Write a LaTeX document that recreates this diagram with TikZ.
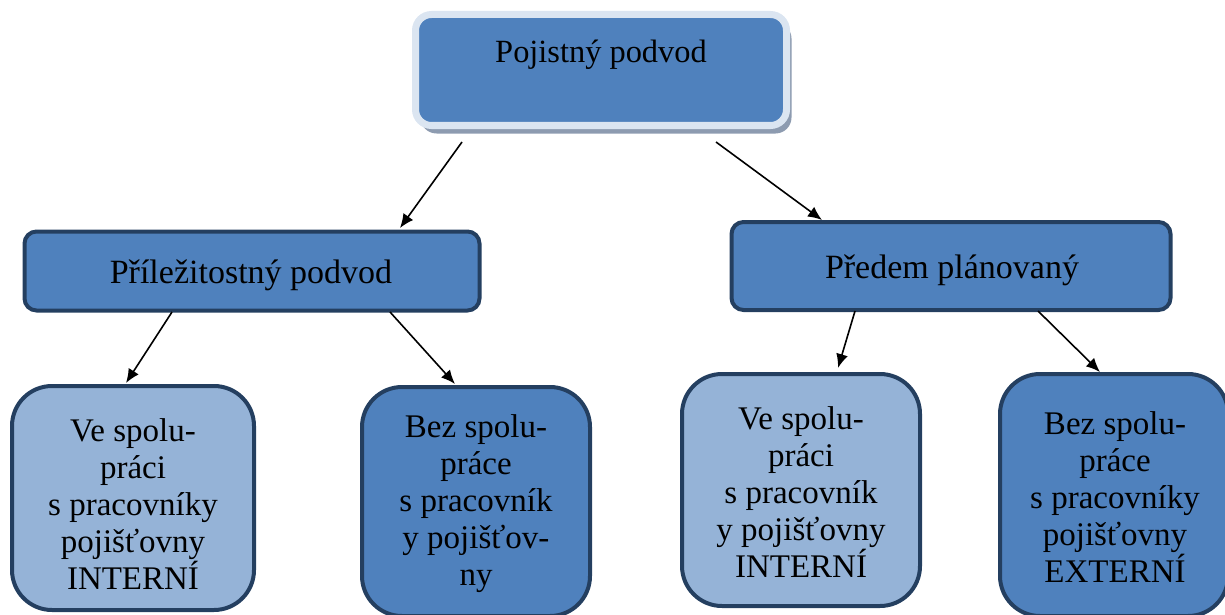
\documentclass[tikz,border=0pt]{standalone}
\usepackage{fontspec}
\setmainfont{Liberation Serif}
\usetikzlibrary{arrows.meta}
\definecolor{boxblue}{HTML}{4F81BD}
\definecolor{boxlight}{HTML}{95B3D7}
\definecolor{boxedge}{HTML}{243F60}
\definecolor{frameblue}{HTML}{DBE5F1}
\definecolor{shadowgrey}{HTML}{8D9BB0}
\tikzset{
  midbox/.style={draw=boxedge, line width=2pt, fill=boxblue, rounded corners=6pt},
  leafbox/.style={draw=boxedge, line width=2pt, rounded corners=20pt},
  leaftext/.style={align=center, font=\fontsize{16.5}{18.5}\selectfont},
  midtext/.style={font=\fontsize{17}{20}\selectfont, anchor=base},
  link/.style={line width=0.8pt, -{Latex[length=7pt,width=6pt]}},
}
\begin{document}
\begin{tikzpicture}[x=0.5pt, y=-0.5pt]
\useasboundingbox (0,0) rectangle (1225,615);

% top box: shadow, light frame, blue body
\node[fill=shadowgrey, rounded corners=8pt, minimum width=185.5pt, minimum height=55.5pt, inner sep=0pt] (topshadow) at (606,78) {};
\node[fill=boxblue, draw=frameblue, line width=3.5pt, rounded corners=8pt, minimum width=185.5pt, minimum height=55.5pt, inner sep=0pt] (top) at (601,70) {};
\node[font=\fontsize{16.2}{18}\selectfont, anchor=base] (toptext) at (601,63) {Pojistný podvod};

% second level
\node[midbox, minimum width=227.5pt, minimum height=39.5pt, inner sep=0pt] (ml) at (252,271) {};
\node[midtext] (mltext) at (251,283) {Příležitostný podvod};
\node[midbox, minimum width=219.5pt, minimum height=44pt, inner sep=0pt] (mr) at (951,266) {};
\node[midtext] (mrtext) at (952,278) {Předem plánovaný};

% leaves
\node[leafbox, fill=boxlight, minimum width=121pt, minimum height=112pt, inner sep=0pt] (l1) at (133,498) {};
\node[leaftext] (l1t) at (133,504) {Ve spolu-\\práci\\s pracovníky\\pojišťovny\\INTERNÍ};
\node[leafbox, fill=boxblue, minimum width=114pt, minimum height=114.5pt, inner sep=0pt] (l2) at (476,501.5) {};
\node[leaftext] (l2t) at (476,504) {Bez spolu-\\práce\\s pracovník\\y pojišťov-\\ny};
\node[leafbox, fill=boxlight, minimum width=119pt, minimum height=116pt, inner sep=0pt] (l3) at (801,490) {};
\node[leaftext] (l3t) at (801,492) {Ve spolu-\\práci\\s pracovník\\y pojišťovny\\INTERNÍ};
\node[leafbox, fill=boxblue, minimum width=114pt, minimum height=121pt, inner sep=0pt] (l4) at (1114,495) {};
\node[leaftext] (l4t) at (1115,497) {Bez spolu-\\práce\\s pracovníky\\pojišťovny\\EXTERNÍ};

% connector end points
\coordinate (a1s) at (462,142); \coordinate (a1e) at (400,228);
\coordinate (a2s) at (716,142); \coordinate (a2e) at (822,220);
\coordinate (a3s) at (172,312); \coordinate (a3e) at (126,383);
\coordinate (a4s) at (390,312); \coordinate (a4e) at (455,384);
\coordinate (a5s) at (855,311); \coordinate (a5e) at (838,368);
\coordinate (a6s) at (1038,311); \coordinate (a6e) at (1100,372);

\draw[link] (a1s) -- (a1e);
\draw[link] (a2s) -- (a2e);
\draw[link] (a3s) -- (a3e);
\draw[link] (a4s) -- (a4e);
\draw[link] (a5s) -- (a5e);
\draw[link] (a6s) -- (a6e);
\end{tikzpicture}
\end{document}
